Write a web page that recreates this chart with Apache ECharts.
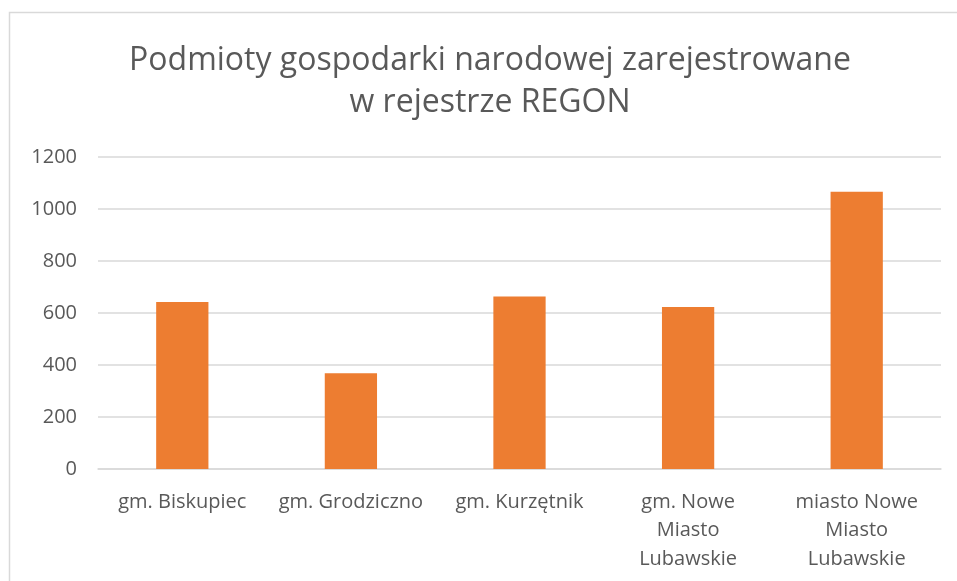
<!DOCTYPE html>
<html lang="pl">
<head>
    <meta charset="UTF-8">
    <title>Podmioty REGON</title>
    <script src="https://cdn.jsdelivr.net/npm/echarts@6/dist/echarts.min.js"></script>
</head>
<body style="margin:0;background:#fff">
<div id="chart" style="width: 957px;height: 581px;"></div>
<script>
    const categories = ['gm. Biskupiec', 'gm. Grodziczno', 'gm. Kurzętnik', 'gm. Nowe\nMiasto\nLubawskie', 'miasto Nowe\nMiasto\nLubawskie'];
    const values = [642, 368, 663, 623, 1066];
    const titleLines = ['Podmioty gospodarki narodowej zarejestrowane', 'w rejestrze REGON'];

    const chart = echarts.init(document.getElementById('chart'));
    const option = {
        backgroundColor: '#ffffff',
        animation: false,
        title: {
            text: titleLines.join('\n'),
            // the original title is centred a little right of the window middle
            left: 485,
            textAlign: 'center',
            top: 35,
            textStyle: {
                color: '#595959',
                fontFamily: 'Open Sans',
                fontWeight: 'normal',
                fontSize: 32,
                lineHeight: 42
            }
        },
        graphic: [{
            type: 'rect',
            shape: {x: 9.5, y: 12.5, width: 960, height: 600},
            style: {fill: 'none', stroke: '#d9d9d9', lineWidth: 1.5},
            silent: true
        }],
        grid: {left: 98, right: 16, top: 157, bottom: 112},
        xAxis: {
            type: 'category',
            data: categories,
            axisTick: {show: false},
            axisLine: {lineStyle: {color: '#d9d9d9', width: 1.5}},
            axisLabel: {
                color: '#595959',
                fontFamily: 'Open Sans',
                fontSize: 20,
                lineHeight: 28.5,
                margin: 19,
                interval: 0
            }
        },
        yAxis: {
            type: 'value',
            min: 0,
            max: 1200,
            interval: 200,
            axisLine: {show: false},
            axisTick: {show: false},
            splitLine: {lineStyle: {color: '#d9d9d9', width: 1.5}},
            axisLabel: {
                color: '#595959',
                fontFamily: 'Open Sans',
                fontSize: 20,
                margin: 21,
                formatter: function (v) { return String(v); }
            }
        },
        series: [{
            type: 'bar',
            data: values,
            barWidth: '31%',
            itemStyle: {color: '#ed7d31'}
        }]
    };
    chart.setOption(option);
</script>
</body>
</html>
